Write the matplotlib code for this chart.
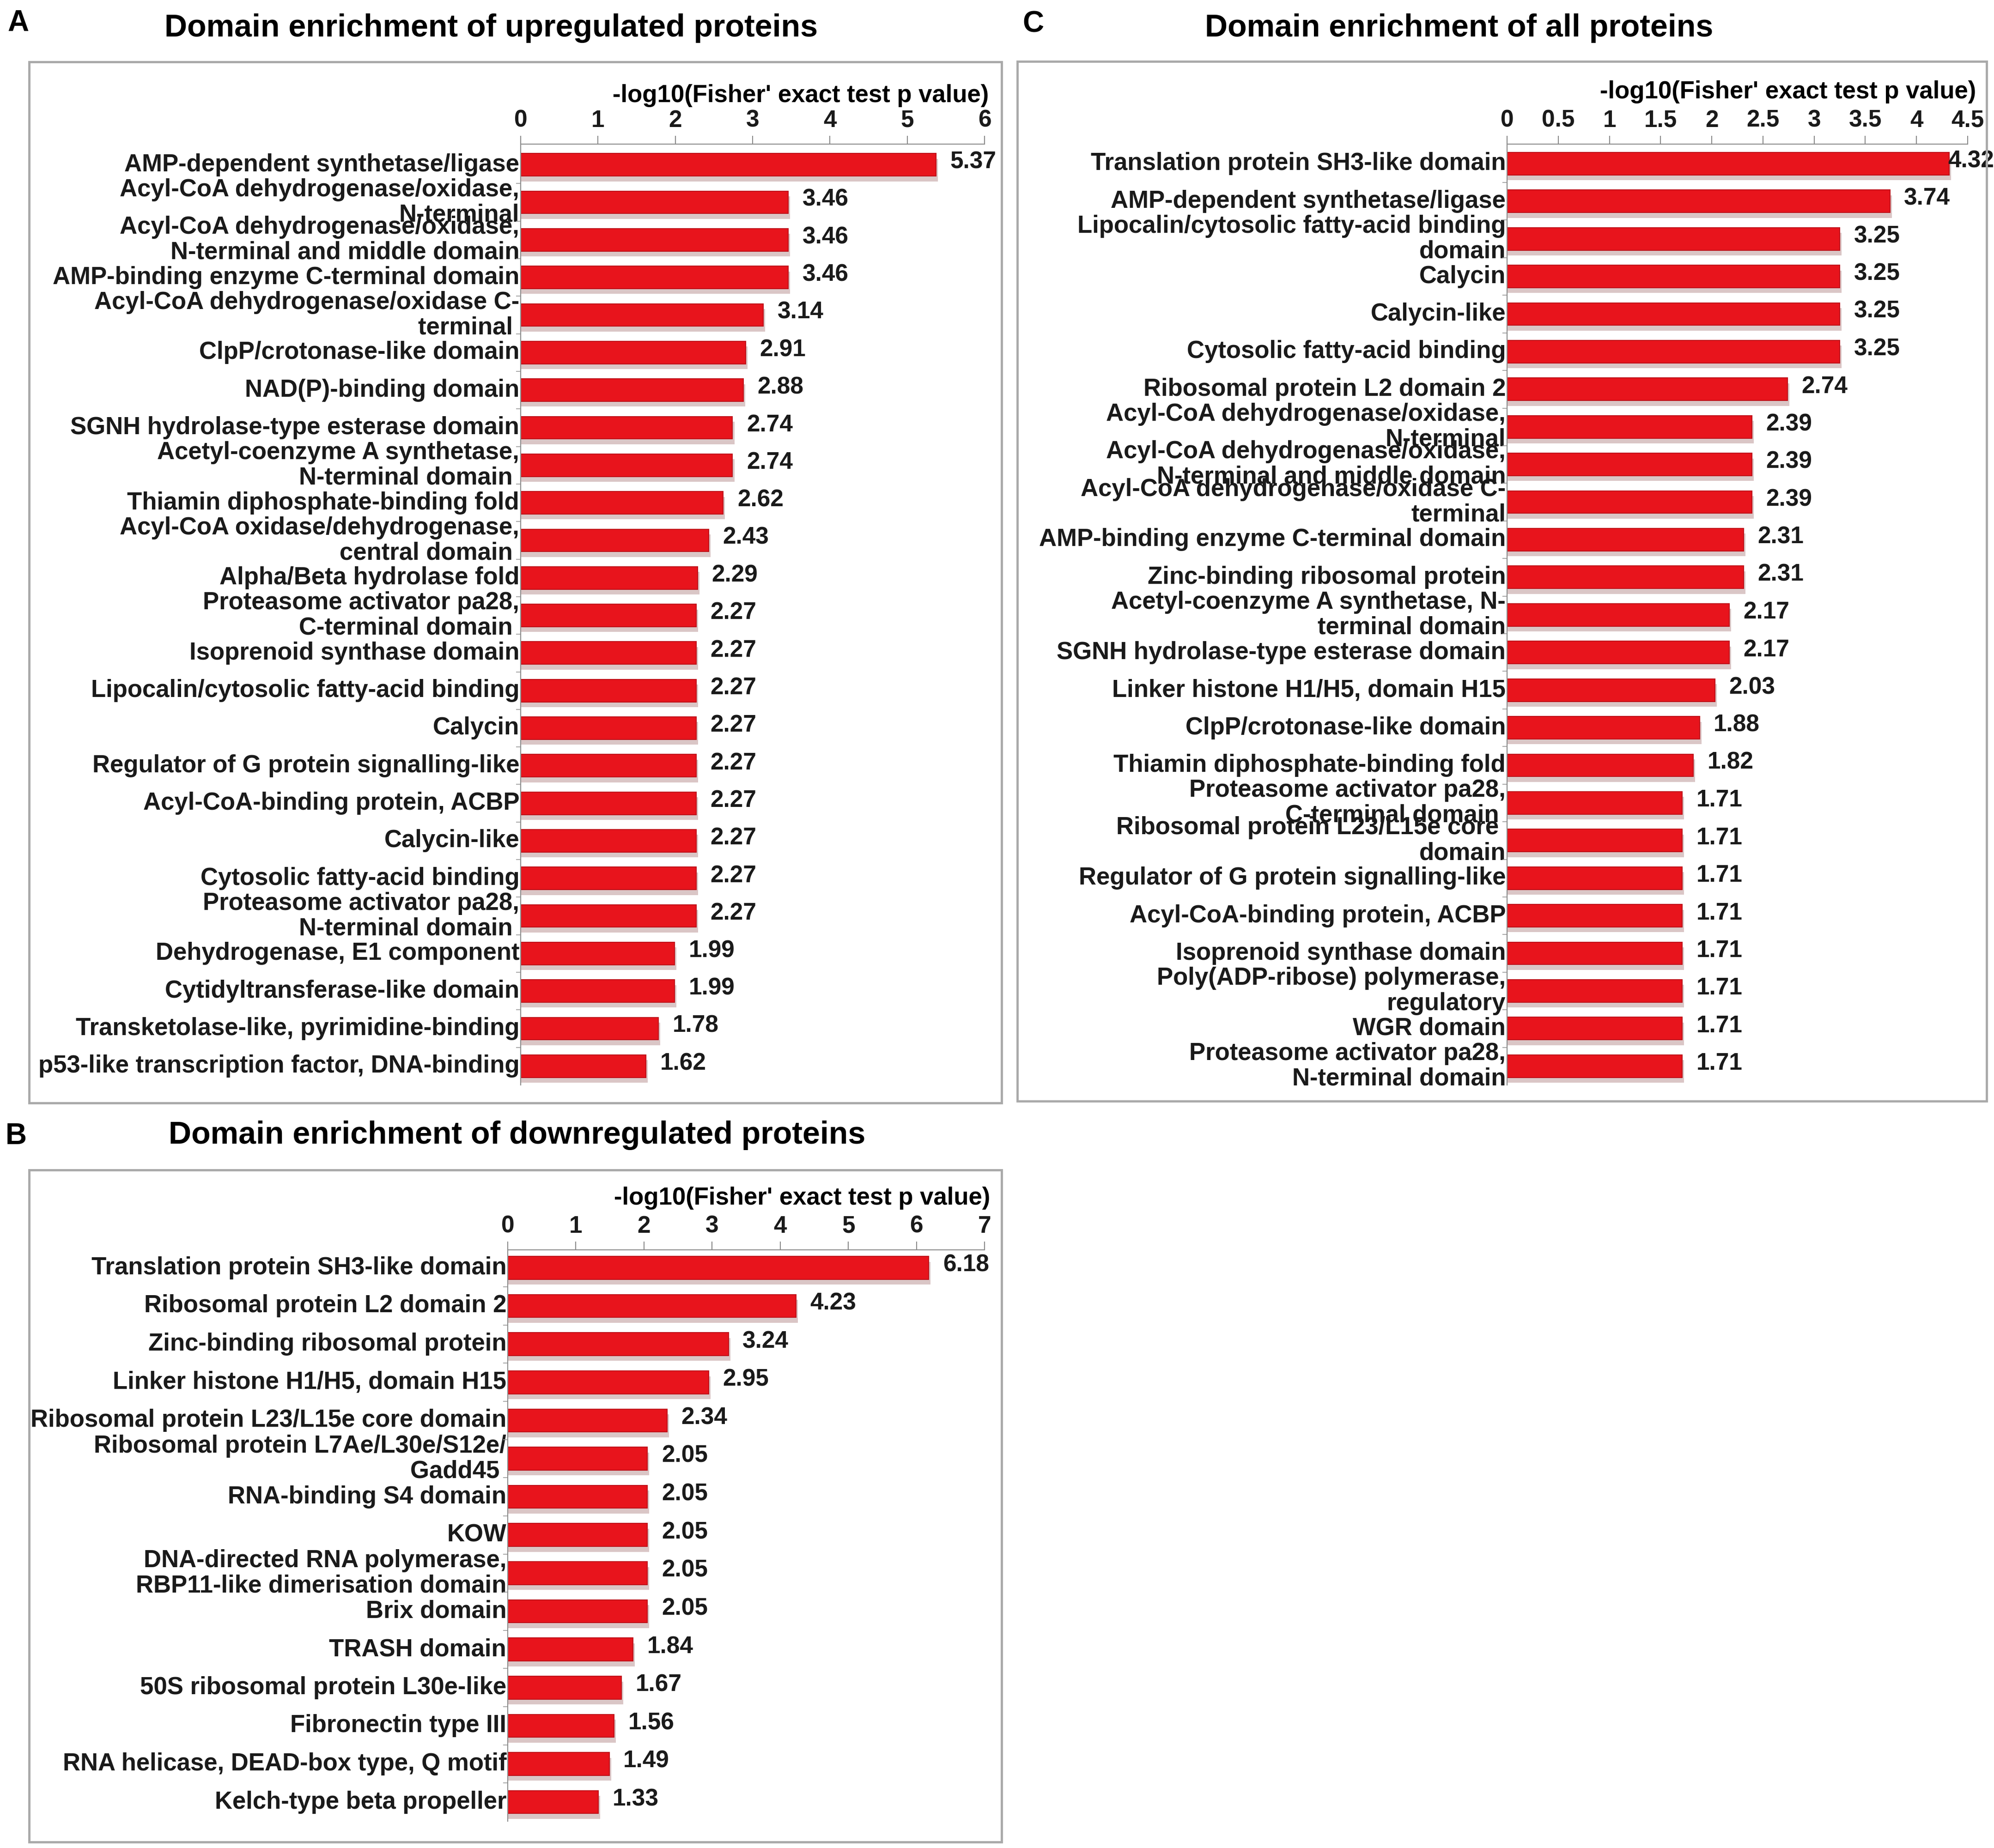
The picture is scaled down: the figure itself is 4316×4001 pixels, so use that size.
import matplotlib
matplotlib.use('Agg')
import matplotlib.pyplot as plt
from matplotlib.patches import Rectangle

plt.rcParams['font.family'] = ['Liberation Sans', 'DejaVu Sans']
plt.rcParams['font.weight'] = 'bold'

W, H = 4316, 4001

# ---- data ----
up_labels = [
    "AMP-dependent synthetase/ligase",
    "Acyl-CoA dehydrogenase/oxidase,\nN-terminal",
    "Acyl-CoA dehydrogenase/oxidase,\nN-terminal and middle domain",
    "AMP-binding enzyme C-terminal domain",
    "Acyl-CoA dehydrogenase/oxidase C-\nterminal ",
    "ClpP/crotonase-like domain",
    "NAD(P)-binding domain",
    "SGNH hydrolase-type esterase domain",
    "Acetyl-coenzyme A synthetase,\nN-terminal domain ",
    "Thiamin diphosphate-binding fold",
    "Acyl-CoA oxidase/dehydrogenase,\ncentral domain ",
    "Alpha/Beta hydrolase fold",
    "Proteasome activator pa28,\nC-terminal domain ",
    "Isoprenoid synthase domain",
    "Lipocalin/cytosolic fatty-acid binding",
    "Calycin",
    "Regulator of G protein signalling-like",
    "Acyl-CoA-binding protein, ACBP",
    "Calycin-like",
    "Cytosolic fatty-acid binding",
    "Proteasome activator pa28,\nN-terminal domain ",
    "Dehydrogenase, E1 component",
    "Cytidyltransferase-like domain",
    "Transketolase-like, pyrimidine-binding",
    "p53-like transcription factor, DNA-binding",
]
up_values = [5.37, 3.46, 3.46, 3.46, 3.14, 2.91, 2.88, 2.74, 2.74, 2.62,
             2.43, 2.29, 2.27, 2.27, 2.27, 2.27, 2.27, 2.27, 2.27, 2.27,
             2.27, 1.99, 1.99, 1.78, 1.62]

down_labels = [
    "Translation protein SH3-like domain",
    "Ribosomal protein L2 domain 2",
    "Zinc-binding ribosomal protein",
    "Linker histone H1/H5, domain H15",
    "Ribosomal protein L23/L15e core domain",
    "Ribosomal protein L7Ae/L30e/S12e/\nGadd45 ",
    "RNA-binding S4 domain",
    "KOW",
    "DNA-directed RNA polymerase,\nRBP11-like dimerisation domain",
    "Brix domain",
    "TRASH domain",
    "50S ribosomal protein L30e-like",
    "Fibronectin type III",
    "RNA helicase, DEAD-box type, Q motif",
    "Kelch-type beta propeller",
]
down_values = [6.18, 4.23, 3.24, 2.95, 2.34, 2.05, 2.05, 2.05, 2.05, 2.05,
               1.84, 1.67, 1.56, 1.49, 1.33]

all_labels = [
    "Translation protein SH3-like domain",
    "AMP-dependent synthetase/ligase",
    "Lipocalin/cytosolic fatty-acid binding\ndomain",
    "Calycin",
    "Calycin-like",
    "Cytosolic fatty-acid binding",
    "Ribosomal protein L2 domain 2",
    "Acyl-CoA dehydrogenase/oxidase,\nN-terminal",
    "Acyl-CoA dehydrogenase/oxidase,\nN-terminal and middle domain",
    "Acyl-CoA dehydrogenase/oxidase C-\nterminal",
    "AMP-binding enzyme C-terminal domain",
    "Zinc-binding ribosomal protein",
    "Acetyl-coenzyme A synthetase, N-\nterminal domain",
    "SGNH hydrolase-type esterase domain",
    "Linker histone H1/H5, domain H15",
    "ClpP/crotonase-like domain",
    "Thiamin diphosphate-binding fold",
    "Proteasome activator pa28,\nC-terminal domain ",
    "Ribosomal protein L23/L15e core \ndomain",
    "Regulator of G protein signalling-like",
    "Acyl-CoA-binding protein, ACBP",
    "Isoprenoid synthase domain",
    "Poly(ADP-ribose) polymerase,\nregulatory",
    "WGR domain",
    "Proteasome activator pa28,\nN-terminal domain",
]
all_values = [4.32, 3.74, 3.25, 3.25, 3.25, 3.25, 2.74, 2.39, 2.39, 2.39,
              2.31, 2.31, 2.17, 2.17, 2.03, 1.88, 1.82, 1.71, 1.71, 1.71,
              1.71, 1.71, 1.71, 1.71, 1.71]

up_ticks = [0, 1, 2, 3, 4, 5, 6]
down_ticks = [0, 1, 2, 3, 4, 5, 6, 7]
all_ticks = [0, 0.5, 1, 1.5, 2, 2.5, 3, 3.5, 4, 4.5]

axis_title = "-log10(Fisher' exact test p value)"

FS = 38

fig = plt.figure(figsize=(W / 100, H / 100), dpi=100)


def box(x0, y0, x1, y1):
    fig.add_artist(Rectangle((x0 / W, 1 - y1 / H), (x1 - x0) / W, (y1 - y0) / H,
                             transform=fig.transFigure, fill=False,
                             ec='#a9a9a9', lw=3.5))


def panel(labels, values, ticks, x0, x1, top, bottom, top_off):
    n = len(labels)
    ax = fig.add_axes([x0 / W, 1 - bottom / H, (x1 - x0) / W, (bottom - top) / H])
    ax.patch.set_alpha(0)
    pos = list(range(n))
    xmax = ticks[-1]
    # soft grey shadow under every bar
    ax.barh([p + 0.14 for p in pos], [v + xmax * 0.004 for v in values],
            height=0.6, color='#dac6c6', zorder=1)
    ax.barh(pos, values, height=0.6, color='#e8141c', edgecolor='#bf111a',
            lw=1.5, zorder=2)
    for p, v in zip(pos, values):
        dx = 22 if v < xmax * 0.93 else -2
        ax.annotate(f"{v:.2f}", (v, p), xytext=(dx, 4), textcoords='offset points',
                    ha='left', va='center', fontsize=FS - 1, color='#1a1a1a',
                    annotation_clip=False, zorder=3)
    ax.set_xlim(0, xmax)
    ax.set_ylim(n - 0.5, top_off)
    ax.xaxis.tick_top()
    ax.set_xticks(ticks)
    ax.set_xticklabels([f"{t:g}" for t in ticks])
    ax.tick_params(axis='x', length=13, width=1.5, color='#8a8a8a',
                   labelsize=FS - 1, pad=6, labelcolor='#1a1a1a')
    ax.set_yticks(pos)
    ax.set_yticklabels(labels, fontsize=FS, color='#1a1a1a', linespacing=1.12)
    for t in ax.get_yticklabels():
        t.set_va('center')
    ax.set_yticks([p + 0.5 for p in pos[:-1]], minor=True)
    ax.tick_params(axis='y', which='major', length=0, pad=2)
    ax.tick_params(axis='y', which='minor', length=7, width=1.2, color='#9a9a9a')
    for s in ['right', 'bottom']:
        ax.spines[s].set_visible(False)
    for s in ['top', 'left']:
        ax.spines[s].set_color('#8a8a8a')
        ax.spines[s].set_linewidth(1.5)
    return ax


# panel A
box(63, 134, 2168, 2388)
panel(up_labels, up_values, up_ticks, 1127, 2131, 312, 2349, -0.55)
fig.text(2140 / W, 1 - 207 / H, axis_title, ha='right', va='center', fontsize=FS)
fig.text(1063 / W, 1 - 61 / H, "Domain enrichment of upregulated proteins",
         ha='center', va='center', fontsize=49)
fig.text(39 / W, 1 - 50 / H, "A", ha='center', va='center', fontsize=46)

# panel B
box(63, 2533, 2168, 3988)
panel(down_labels, down_values, down_ticks, 1099, 2131, 2706, 3943, -0.47)
fig.text(2143 / W, 1 - 2594 / H, axis_title, ha='right', va='center', fontsize=FS)
fig.text(1119 / W, 1 - 2458 / H, "Domain enrichment of downregulated proteins",
         ha='center', va='center', fontsize=49)
fig.text(35 / W, 1 - 2460 / H, "B", ha='center', va='center', fontsize=46)

# panel C
box(2202, 133, 4300, 2384)
panel(all_labels, all_values, all_ticks, 3262, 4259, 312, 2349, -0.52)
fig.text(4277 / W, 1 - 199 / H, axis_title, ha='right', va='center', fontsize=FS)
fig.text(3158 / W, 1 - 61 / H, "Domain enrichment of all proteins",
         ha='center', va='center', fontsize=49)
fig.text(2236 / W, 1 - 52 / H, "C", ha='center', va='center', fontsize=46)

fig.savefig('out.png', dpi=100, facecolor='white')
